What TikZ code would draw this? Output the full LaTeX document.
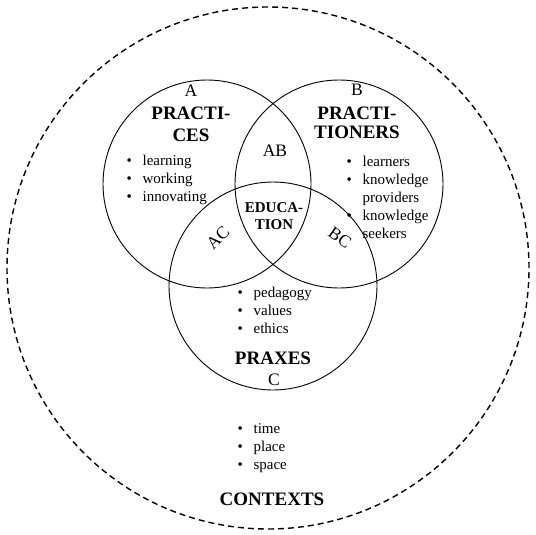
\documentclass[tikz,border=0pt]{standalone}
\usepackage{fontspec}
\setmainfont{Liberation Serif}
\newcommand{\bl}[1]{\makebox[16pt][l]{\textbullet}#1}
\newcommand{\nb}[1]{\hspace*{16pt}#1}
\tikzset{
  set/.style={draw,circle,minimum size=208pt,inner sep=0pt,line width=0.9pt},
  ctx/.style={draw,circle,minimum size=522pt,inner sep=0pt,line width=1.4pt,dash pattern=on 6pt off 4pt},
  letter/.style={font=\fontsize{17.5}{20}\selectfont,inner sep=0pt,anchor=base},
  title/.style={font=\fontsize{19}{22}\selectfont\bfseries,inner sep=0pt,anchor=base,align=center},
  items/.style={font=\fontsize{15}{18}\selectfont,inner sep=0pt,anchor=base west,align=left},
}
\begin{document}
\begin{tikzpicture}[x=1pt,y=-1pt]
\useasboundingbox (0,0) rectangle (536,535);
\node[ctx] (ctx) at (268,268) {};
\node[set] (A) at (207,184) {};
\node[set] (B) at (339,184) {};
\node[set] (C) at (273,286) {};
% A (multi-line nodes: base = baseline of last line)
\node[letter] (la) at (191,96.5) {A};
\node[title,font=\fontsize{19}{23}\selectfont\bfseries] (ta) at (191,142) {PRACTI-\\CES};
\node[items] (ia) at (126.4,201) {\bl{learning}\\\bl{working}\\\bl{innovating}};
% B
\node[letter] (lb) at (357,95.5) {B};
\node[title,font=\fontsize{19}{20}\selectfont\bfseries] (tb) at (357,139) {PRACTI-\\TIONERS};
\node[items] (ib) at (346.4,238) {\bl{learners}\\\bl{knowledge}\\\nb{providers}\\\bl{knowledge}\\\nb{seekers}};
% overlaps
\node[letter] (lab) at (275,156.5) {AB};
\node[title,font=\fontsize{15}{17}\selectfont\bfseries] (edu) at (274,229) {EDUCA-\\TION};
\node[font=\fontsize{17.5}{20}\selectfont,inner sep=0pt,rotate=45] (lac) at (218,238) {AC};
\node[font=\fontsize{17.5}{20}\selectfont,inner sep=0pt,rotate=-35] (lbc) at (340,238) {BC};
% C
\node[items] (ic) at (237.4,333) {\bl{pedagogy}\\\bl{values}\\\bl{ethics}};
\node[title] (tc) at (273,364) {PRAXES};
\node[letter] (lc) at (274,385.5) {C};
% contexts
\node[items] (ix) at (237.4,469) {\bl{time}\\\bl{place}\\\bl{space}};
\node[title] (tx) at (272,505) {CONTEXTS};
\end{tikzpicture}
\end{document}
